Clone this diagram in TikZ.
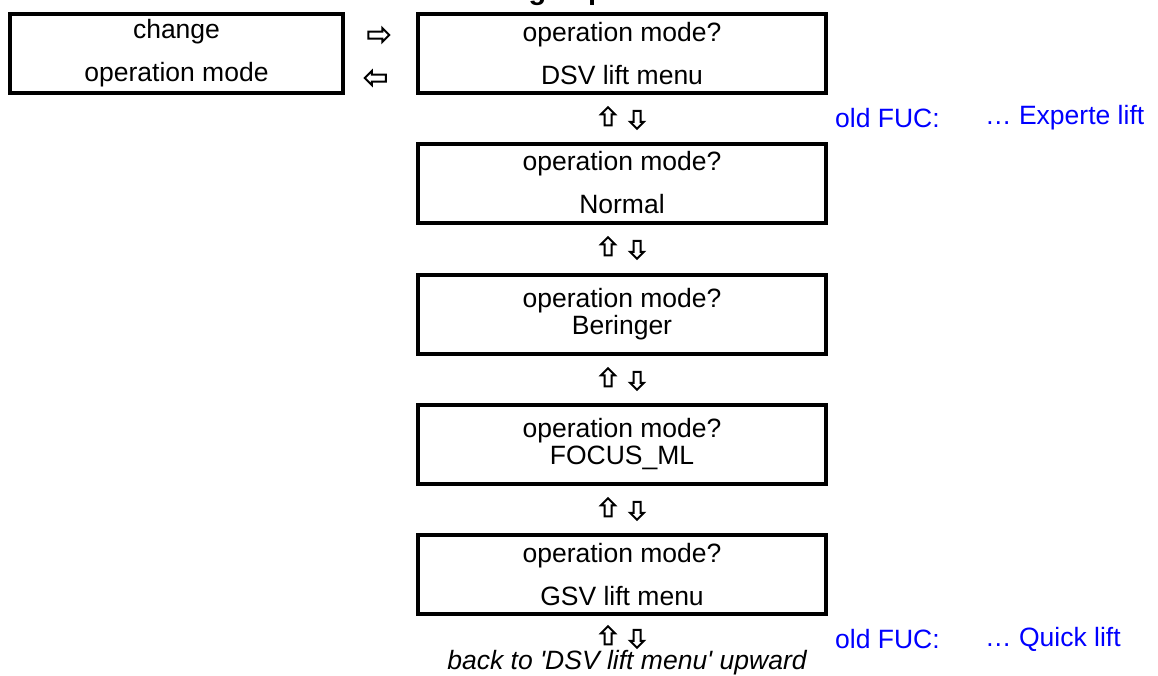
\documentclass[tikz,border=0pt]{standalone}
\usepackage{fontspec}
\setmainfont{Liberation Sans}
\usetikzlibrary{shapes.arrows}

\begin{document}
\begin{tikzpicture}[x=1pt,y=-1pt,
  screen/.style={draw, line width=4pt, minimum height=79pt, inner sep=0pt,
    align=center, font=\fontsize{26.5}{30}\selectfont},
  note/.style={anchor=west, text=blue, inner sep=0pt,
    font=\fontsize{26.5}{30}\selectfont},
  hollow/.style={single arrow, draw, fill=white, line width=2pt, inner sep=2.5pt,
    single arrow head extend=3.5pt, minimum height=18pt},
  sidearrow/.style={hollow, minimum height=21pt}]
  \clip (0,0) rectangle (1158,675);

  \node[anchor=base, font=\fontsize{29}{35}\selectfont\bfseries] (title)
    at (622,-1) {Change operation mode};

  \node[screen, minimum width=333pt] (change) at (176.5,53.5)
    {change\\[13pt]operation mode};
  \node[screen, minimum width=408pt] (dsv) at (622,53.5)
    {operation mode?\\[13pt]DSV lift menu};
  \node[sidearrow, shape border rotate=0] (enter) at (377,35) {};
  \node[sidearrow, shape border rotate=180] (leave) at (377,78) {};

  \foreach \y/\mode/\gap in {183/Normal/13, 314/Beringer/-3,
      444.5/FOCUS\_ML/-3, 574.5/GSV lift menu/13} {
    \node[screen, minimum width=408pt] (mode\y) at (622,\y)
      {operation mode?\\[\gap pt]\mode};
  };
  \foreach \y in {118,248,379,509,637} {
    \node[hollow, shape border rotate=90] (up\y) at (608,\y) {};
    \node[hollow, shape border rotate=270] (down\y) at (637,\y) {};
  };

  \node[note] (oldtop) at (835,118) {old FUC:};
  \node[note] (expert) at (985,118) {… Experte lift};
  \node[note] (oldbot) at (835,639) {old FUC:};
  \node[note] (quick) at (985,639) {… Quick lift};

  \node[font=\fontsize{26.5}{30}\selectfont\itshape] (back) at (627,663)
    {back to \textquotesingle DSV lift menu\textquotesingle{} upward};
\end{tikzpicture}
\end{document}
